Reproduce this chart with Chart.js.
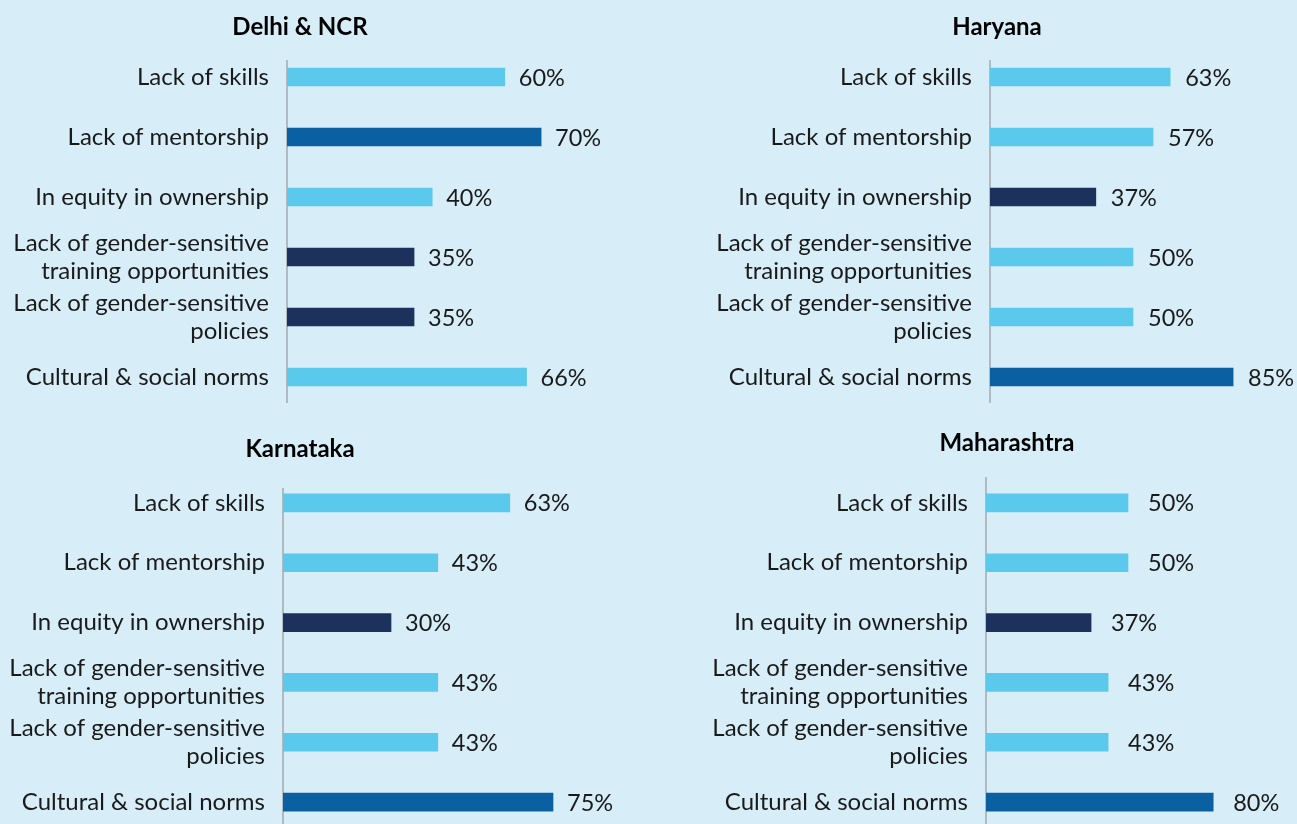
<!DOCTYPE html>
<html>
<head>
<meta charset="utf-8">
<script src="https://cdn.jsdelivr.net/npm/chart.js@4.4.1/dist/chart.umd.min.js"></script>
<style>
    html, body {
        margin: 0;
        padding: 0;
        width: 1297px;
        height: 824px;
        overflow: hidden;
        background: #d7eef8;
    }
    canvas {
        position: absolute;
    }
</style>
</head>
<body>
<canvas id="chartDelhi" width="650" height="412" style="left:0;top:0"></canvas>
<canvas id="chartHaryana" width="694" height="412" style="left:650px;top:0"></canvas>
<canvas id="chartKarnataka" width="650" height="425" style="left:0;top:412px"></canvas>
<canvas id="chartMaharashtra" width="714" height="425" style="left:650px;top:412px"></canvas>

<script>
// ==========================================
// DATOS
// ==========================================

const categorias = [
    "Lack of skills",
    "Lack of mentorship",
    "In equity in ownership",
    ["Lack of gender-sensitive", "training opportunities"],
    ["Lack of gender-sensitive", "policies"],
    "Cultural & social norms"
];

const valoresDelhi = [60, 70, 40, 35, 35, 66];
const valoresHaryana = [63, 57, 37, 50, 50, 85];
const valoresKarnataka = [63, 43, 30, 43, 43, 75];
const valoresMaharashtra = [50, 50, 37, 43, 43, 80];

// tono de cada barra
const tonosDelhi = ["claro", "medio", "claro", "oscuro", "oscuro", "claro"];
const tonosHaryana = ["claro", "claro", "oscuro", "claro", "claro", "medio"];
const tonosKarnataka = ["claro", "claro", "oscuro", "claro", "claro", "medio"];
const tonosMaharashtra = ["claro", "claro", "oscuro", "claro", "claro", "medio"];

const COLORES = {
    claro: "#5bc9ec",
    medio: "#0b60a1",
    oscuro: "#1d315d"
};

const FUENTE = "Lato, 'Open Sans', sans-serif";
const TEXTO = "#1a1a1a";
const TAM_TEXTO = 24;

// ==========================================
// PLUGINS
// ==========================================

const etiquetasValor = {
    id: "etiquetasValor",
    afterDatasetsDraw(chart, args, opts) {
        const ctx = chart.ctx;
        const meta = chart.getDatasetMeta(0);
        const valores = chart.data.datasets[0].data;

        ctx.save();
        ctx.font = "23.5px " + FUENTE;
        ctx.fillStyle = TEXTO;
        ctx.textAlign = "left";
        ctx.textBaseline = "middle";
        meta.data.forEach((barra, i) => {
            ctx.fillText(valores[i] + "%", barra.x + opts.separacion, barra.y + 1);
        });
        ctx.restore();
    }
};

const lineaEje = {
    id: "lineaEje",
    beforeDatasetsDraw(chart, args, opts) {
        const ctx = chart.ctx;
        const area = chart.chartArea;
        ctx.save();
        ctx.strokeStyle = "#a3a8ad";
        ctx.lineWidth = 1.5;
        ctx.beginPath();
        ctx.moveTo(area.left, area.top + opts.arriba);
        ctx.lineTo(area.left, area.bottom - 4);
        ctx.stroke();
        ctx.restore();
    }
};

// ==========================================
// GRAFICOS
// ==========================================

function crearGrafico(canvasId, titulo, valores, tonos, diseno) {
    const canvas = document.getElementById(canvasId);
    const altoTitulo = TAM_TEXTO * 1.2;
    const maximo = (canvas.width - diseno.der - diseno.anchoEje) / diseno.pxPorPunto;

    return new Chart(canvas, {
        type: "bar",
        data: {
            labels: categorias,
            datasets: [{
                data: valores,
                backgroundColor: tonos.map(t => COLORES[t]),
                barThickness: 18
            }]
        },
        plugins: [lineaEje, etiquetasValor],
        options: {
            indexAxis: "y",
            responsive: false,
            animation: false,
            layout: {
                padding: { left: 0, right: diseno.der, top: 0, bottom: 5 }
            },
            scales: {
                x: {
                    display: false,
                    min: 0,
                    max: maximo
                },
                y: {
                    afterFit: escala => {
                        escala.width = diseno.anchoEje;
                        escala.paddingTop = 0;
                        escala.paddingBottom = 0;
                    },
                    grid: { display: false, drawTicks: false },
                    border: { display: false },
                    ticks: {
                        padding: 18,
                        color: TEXTO,
                        font: { family: FUENTE, size: TAM_TEXTO, lineHeight: 28 / TAM_TEXTO }
                    }
                }
            },
            plugins: {
                legend: { display: false },
                tooltip: { enabled: false },
                title: {
                    display: true,
                    text: titulo,
                    color: "#000",
                    font: { family: FUENTE, size: TAM_TEXTO, weight: "bold" },
                    padding: {
                        top: diseno.tituloY - altoTitulo / 2,
                        bottom: diseno.areaArriba - diseno.tituloY - altoTitulo / 2
                    }
                },
                lineaEje: { arriba: diseno.ejeArriba },
                etiquetasValor: { separacion: diseno.separacion }
            }
        }
    });
}

crearGrafico("chartDelhi", "Delhi & NCR", valoresDelhi, tonosDelhi, {
    der: 50, anchoEje: 287, pxPorPunto: 3.63,
    tituloY: 27, areaArriba: 47, ejeArriba: 13, separacion: 14
});

crearGrafico("chartHaryana", "Haryana", valoresHaryana, tonosHaryana, {
    der: 0, anchoEje: 340, pxPorPunto: 2.86,
    tituloY: 27, areaArriba: 47, ejeArriba: 13, separacion: 15
});

crearGrafico("chartKarnataka", "Karnataka", valoresKarnataka, tonosKarnataka, {
    der: 50, anchoEje: 283, pxPorPunto: 3.6,
    tituloY: 37, areaArriba: 61, ejeArriba: 15, separacion: 14
});

crearGrafico("chartMaharashtra", "Maharashtra", valoresMaharashtra, tonosMaharashtra, {
    der: 0, anchoEje: 336, pxPorPunto: 2.84,
    tituloY: 31, areaArriba: 61, ejeArriba: 4, separacion: 20
});
</script>
</body>
</html>
